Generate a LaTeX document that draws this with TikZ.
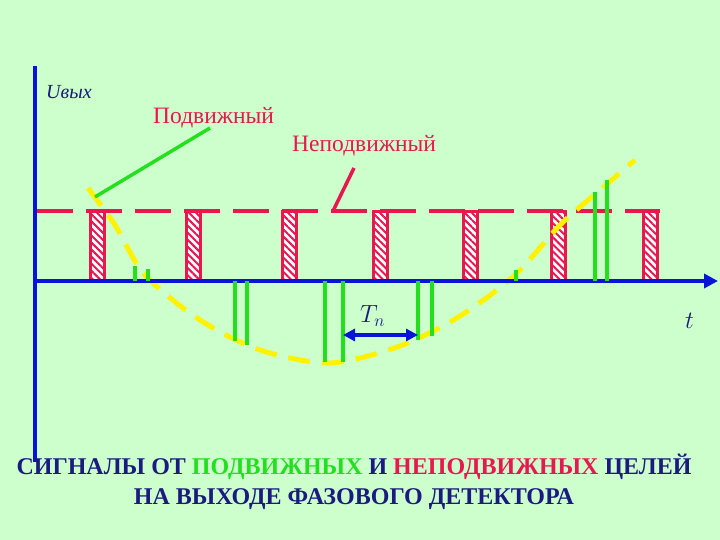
\documentclass[tikz,border=0pt]{standalone}
\usepackage{fontspec}
\setmainfont{Liberation Serif}
\usetikzlibrary{patterns.meta,arrows.meta}
\definecolor{bg}{HTML}{CCFFCC}
\definecolor{rd}{HTML}{E8174F}
\definecolor{ax}{HTML}{0A14D8}
\definecolor{nv}{HTML}{1A1A80}
\definecolor{gr}{HTML}{22E01E}
\definecolor{yl}{HTML}{FFF200}
\begin{document}
\begin{tikzpicture}[x=1pt,y=-1pt,
  grn/.style={gr,line width=3.5pt},
  lbl/.style={inner sep=0pt,anchor=west}]
\fill[bg] (0,0) rectangle (720,540);
\useasboundingbox (0,0) rectangle (720,540);
% red dashes
\foreach \x in {37,86,135,184,233,282,331,380,429,478,527,576,625}{
  \pgfmathsetmacro\xe{min(\x+36,660)}
  \draw[rd,line width=4pt] (\x,211) -- (\xe,211);}
% pulses
\foreach \x in {97,193,289,380,470,558,650}{
  \fill[white] (\x-7,212) rectangle (\x+7,280);
  \fill[pattern={Lines[angle=-45,distance=5pt,line width=2pt]},pattern color=rd] (\x-7,212) rectangle (\x+7,280);
  \draw[rd,line width=3pt] (\x-7,280) -- (\x-7,212) -- (\x+7,212) -- (\x+7,280);}
% yellow curve
\draw[yl,line width=5pt,dash pattern=on 22pt off 12pt] plot[smooth] coordinates {(88,188) (115,225) (145,275) (200,320) (260,350) (330,363) (400,346) (460,316) (515,275) (560,225) (600,190) (635,160)};
% axes
\coordinate (o) at (35,281);
\coordinate (top) at (35,66);
\coordinate (bot) at (35,462);
\coordinate (right) at (718,281);
\draw[ax,line width=4pt] (bot) -- (top);
\draw[ax,line width=4pt,-{Triangle[length=14pt,width=14pt]}] (o) -- (right);
% green pulses
\foreach \x/\a/\b in {135/266/281,148/269/281,235/281/341,247/281/345,325/281/362,343/281/362,418/281/340,432/281/336,516/270/281,595/192/281,607/180/281}{
  \draw[grn] (\x,\a) -- (\x,\b);}
% labels
\node[lbl,nv,font=\fontsize{20}{22}\selectfont] (u) at (46,92) {\itshape Uвых};
\node[lbl,rd,font=\fontsize{23.5}{26}\selectfont] (pd) at (153,118) {Подвижный};
\node[lbl,rd,font=\fontsize{23.5}{26}\selectfont] (np) at (292,146) {Неподвижный};
\coordinate (g1) at (95,197); \coordinate (g2) at (210,128);
\draw[grn] (g1) -- (g2);
\coordinate (r1) at (333,211); \coordinate (r2) at (354,168);
\draw[rd,line width=3.5pt] (r1) -- (r2);
\node[lbl,nv,font=\fontsize{24}{26}\selectfont] (tn) at (360,316) {$T_n$};
\node[lbl,nv,font=\fontsize{24}{26}\selectfont] (t) at (685,321) {$t$};
\coordinate (a1) at (343,335); \coordinate (a2) at (418,335);
\draw[ax,line width=4pt,{Triangle[length=12pt,width=12pt]}-{Triangle[length=12pt,width=12pt]}] (a1) -- (a2);
\node[font=\bfseries\fontsize{24}{30}\selectfont,align=center,nv] (cap) at (354,482) {СИГНАЛЫ ОТ \textcolor{gr}{ПОДВИЖНЫХ} И \textcolor{rd}{НЕПОДВИЖНЫХ} ЦЕЛЕЙ\\НА ВЫХОДЕ ФАЗОВОГО ДЕТЕКТОРА};
\end{tikzpicture}
\end{document}
